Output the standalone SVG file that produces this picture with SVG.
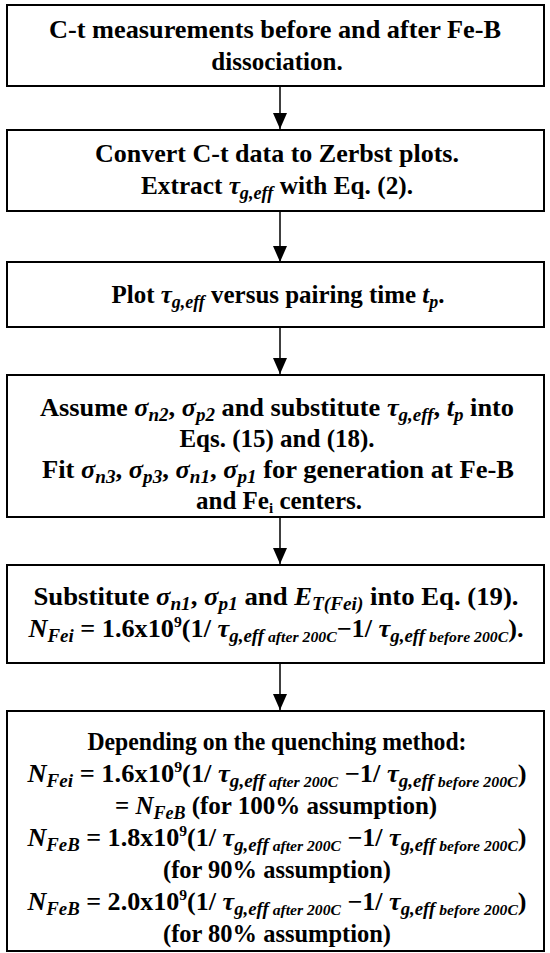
<svg xmlns="http://www.w3.org/2000/svg" width="550" height="953" viewBox="0 0 550 953">
<style>
.box{fill:#fff;stroke:#000;stroke-width:2}
text{font-family:"Liberation Serif","Tinos","DejaVu Serif",serif;font-weight:bold;font-size:25px;text-anchor:middle;fill:#000}
.i{font-style:italic}
.s{font-size:18px;font-style:italic}
.ss{font-size:15px;font-style:italic}
.sp{font-size:15px}
.conn{stroke:#000;stroke-width:1.5;fill:none}
</style>
<rect width="550" height="953" fill="#fff"/>
<g id="connectors">
<line class="conn" x1="280" y1="86" x2="280" y2="129"/>
<polygon points="273,113 287,113 280,129" fill="#000"/>
<line class="conn" x1="280" y1="211" x2="280" y2="262"/>
<polygon points="273,246 287,246 280,262" fill="#000"/>
<line class="conn" x1="280" y1="327" x2="280" y2="374"/>
<polygon points="273,358 287,358 280,374" fill="#000"/>
<line class="conn" x1="280" y1="517" x2="280" y2="564"/>
<polygon points="273,548 287,548 280,564" fill="#000"/>
<line class="conn" x1="280" y1="663" x2="280" y2="710"/>
<polygon points="273,694 287,694 280,710" fill="#000"/>
</g>
<g id="n1">
<rect class="box" x="7" y="5" width="537" height="81"/>
<text x="275" y="38" textLength="452" lengthAdjust="spacingAndGlyphs">C-t measurements before and after Fe-B</text>
<text x="277" y="70">dissociation.</text>
</g>
<g id="n2">
<rect class="box" x="7" y="130" width="537" height="81"/>
<text x="277" y="162" textLength="364" lengthAdjust="spacingAndGlyphs">Convert C-t data to Zerbst plots.</text>
<text x="277" y="194" textLength="272" lengthAdjust="spacingAndGlyphs">Extract <tspan class="i">τ</tspan><tspan class="s" dy="5">g,eff</tspan><tspan dy="-5"> with Eq. (2).</tspan></text>
</g>
<g id="n3">
<rect class="box" x="7" y="262" width="537" height="65"/>
<text x="278" y="303" textLength="333" lengthAdjust="spacingAndGlyphs">Plot <tspan class="i">τ</tspan><tspan class="s" dy="5">g,eff</tspan><tspan dy="-5"> versus pairing time </tspan><tspan class="i">t</tspan><tspan class="s" dy="5">p</tspan><tspan dy="-5">.</tspan></text>
</g>
<g id="n4">
<rect class="box" x="7" y="375" width="537" height="142"/>
<text x="277" y="416" textLength="474" lengthAdjust="spacingAndGlyphs">Assume <tspan class="i">σ</tspan><tspan class="s" dy="5">n2</tspan><tspan dy="-5">, </tspan><tspan class="i">σ</tspan><tspan class="s" dy="5">p2</tspan><tspan dy="-5"> and substitute </tspan><tspan class="i">τ</tspan><tspan class="s" dy="5">g,eff</tspan><tspan dy="-5">, </tspan><tspan class="i">t</tspan><tspan class="s" dy="5">p</tspan><tspan dy="-5"> into</tspan></text>
<text x="277" y="447">Eqs. (15) and (18).</text>
<text x="278" y="478" textLength="472" lengthAdjust="spacingAndGlyphs">Fit <tspan class="i">σ</tspan><tspan class="s" dy="5">n3</tspan><tspan dy="-5">, </tspan><tspan class="i">σ</tspan><tspan class="s" dy="5">p3</tspan><tspan dy="-5">, </tspan><tspan class="i">σ</tspan><tspan class="s" dy="5">n1</tspan><tspan dy="-5">, </tspan><tspan class="i">σ</tspan><tspan class="s" dy="5">p1</tspan><tspan dy="-5"> for generation at Fe-B</tspan></text>
<text x="279" y="509">and Fe<tspan class="sp" dy="4">i</tspan><tspan dy="-4"> centers.</tspan></text>
</g>
<g id="n5">
<rect class="box" x="7" y="565" width="537" height="98"/>
<text x="276" y="605" textLength="485" lengthAdjust="spacingAndGlyphs">Substitute <tspan class="i">σ</tspan><tspan class="s" dy="5">n1</tspan><tspan dy="-5">, </tspan><tspan class="i">σ</tspan><tspan class="s" dy="5">p1</tspan><tspan dy="-5"> and </tspan><tspan class="i">E</tspan><tspan class="s" dy="5">T(Fei)</tspan><tspan dy="-5"> into Eq. (19).</tspan></text>
<text x="276" y="637" textLength="495" lengthAdjust="spacingAndGlyphs"><tspan class="i">N</tspan><tspan class="s" dy="5">Fei</tspan><tspan dy="-5"> = 1.6x10</tspan><tspan class="sp" dy="-10">9</tspan><tspan dy="10">(1/ </tspan><tspan class="i">τ</tspan><tspan class="s" dy="5">g,eff</tspan><tspan class="ss"> after 200C</tspan><tspan dy="-5">−1/ </tspan><tspan class="i">τ</tspan><tspan class="s" dy="5">g,eff</tspan><tspan class="ss"> before 200C</tspan><tspan dy="-5">).</tspan></text>
</g>
<g id="n6">
<rect class="box" x="7" y="711" width="537" height="240"/>
<text x="277" y="750" textLength="379" lengthAdjust="spacingAndGlyphs">Depending on the quenching method:</text>
<text x="277" y="782" textLength="499" lengthAdjust="spacingAndGlyphs"><tspan class="i">N</tspan><tspan class="s" dy="5">Fei</tspan><tspan dy="-5"> = 1.6x10</tspan><tspan class="sp" dy="-10">9</tspan><tspan dy="10">(1/ </tspan><tspan class="i">τ</tspan><tspan class="s" dy="5">g,eff</tspan><tspan class="ss"> after 200C</tspan><tspan dy="-5"> −1/ </tspan><tspan class="i">τ</tspan><tspan class="s" dy="5">g,eff</tspan><tspan class="ss"> before 200C</tspan><tspan dy="-5">)</tspan></text>
<text x="276" y="814">= <tspan class="i">N</tspan><tspan class="s" dy="5">FeB</tspan><tspan dy="-5"> (for 100% assumption)</tspan></text>
<text x="277" y="846" textLength="499" lengthAdjust="spacingAndGlyphs"><tspan class="i">N</tspan><tspan class="s" dy="5">FeB</tspan><tspan dy="-5"> = 1.8x10</tspan><tspan class="sp" dy="-10">9</tspan><tspan dy="10">(1/ </tspan><tspan class="i">τ</tspan><tspan class="s" dy="5">g,eff</tspan><tspan class="ss"> after 200C</tspan><tspan dy="-5"> −1/ </tspan><tspan class="i">τ</tspan><tspan class="s" dy="5">g,eff</tspan><tspan class="ss"> before 200C</tspan><tspan dy="-5">)</tspan></text>
<text x="277" y="878" textLength="228" lengthAdjust="spacingAndGlyphs">(for 90% assumption)</text>
<text x="277" y="910" textLength="499" lengthAdjust="spacingAndGlyphs"><tspan class="i">N</tspan><tspan class="s" dy="5">FeB</tspan><tspan dy="-5"> = 2.0x10</tspan><tspan class="sp" dy="-10">9</tspan><tspan dy="10">(1/ </tspan><tspan class="i">τ</tspan><tspan class="s" dy="5">g,eff</tspan><tspan class="ss"> after 200C</tspan><tspan dy="-5"> −1/ </tspan><tspan class="i">τ</tspan><tspan class="s" dy="5">g,eff</tspan><tspan class="ss"> before 200C</tspan><tspan dy="-5">)</tspan></text>
<text x="277" y="942" textLength="228" lengthAdjust="spacingAndGlyphs">(for 80% assumption)</text>
</g>
</svg>
